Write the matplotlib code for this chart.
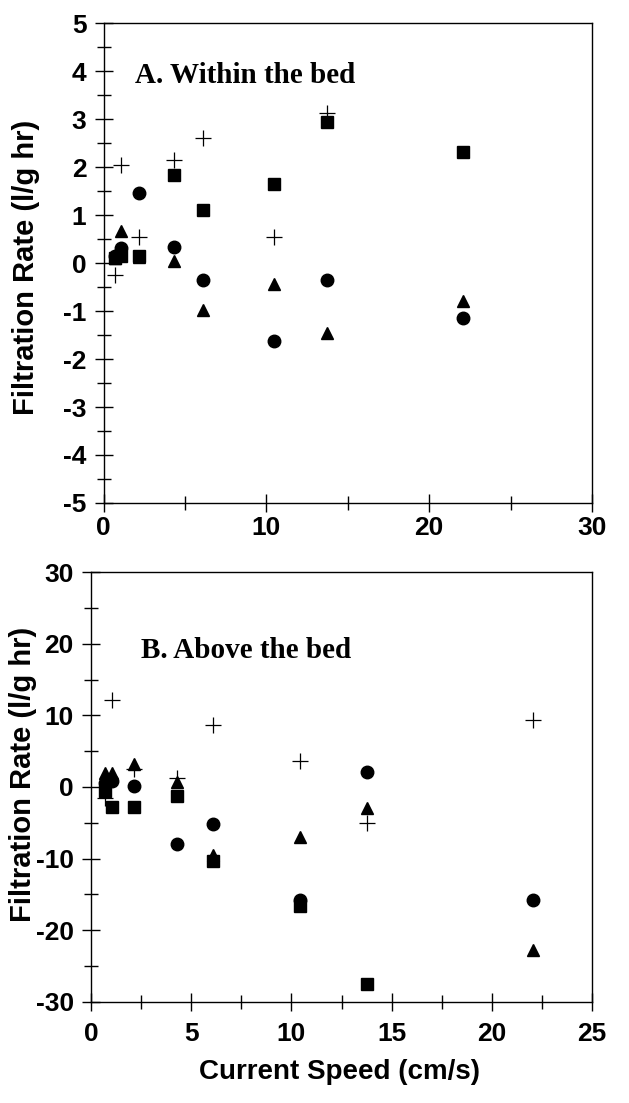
import numpy as np
import matplotlib
matplotlib.use("Agg")
import matplotlib.pyplot as plt
from matplotlib.ticker import MultipleLocator

plt.rcParams['font.family'] = ['Liberation Sans', 'DejaVu Sans']
plt.rcParams['font.weight'] = 'bold'
plt.rcParams['axes.unicode_minus'] = False

# current speed (cm/s)
speed = [0.7, 1.05, 2.15, 4.3, 6.1, 10.45, 13.75, 22.05]

# A. within the bed
a_square = [0.1, 0.15, 0.15, 1.83, 1.1, 1.64, 2.93, 2.31]
a_circle = [0.15, 0.31, 1.46, 0.33, -0.36, -1.62, -0.36, -1.15]
a_triangle = [0.1, 0.66, 0.12, 0.05, -0.97, -0.44, -1.45, -0.79]
a_cross = [-0.24, 2.04, 0.54, 2.15, 2.6, 0.54, 3.13, np.nan]

# B. above the bed
b_square = [-0.6, -2.8, -2.8, -1.2, -10.4, -16.7, -27.5, np.nan]
b_circle = [0.5, 0.9, 0.1, -8.0, -5.2, -15.8, 2.1, -15.8]
b_triangle = [1.9, 1.9, 3.2, 0.7, -9.5, -7.0, -3.0, -22.8]
b_cross = [-1.5, 12.2, 2.5, 1.3, 8.6, 3.6, -5.1, 9.3]

fig = plt.figure(figsize=(6.29, 11.03), dpi=100)
ax1 = fig.add_axes([0.165, 0.544, 0.776, 0.435])
ax2 = fig.add_axes([0.145, 0.092, 0.796, 0.389])


def draw(ax, sq, ci, tr, cr):
    ax.plot(speed, sq, 's', color='black', ms=8.5, ls='none')
    ax.plot(speed, ci, 'o', color='black', ms=9, ls='none')
    ax.plot(speed, tr, '^', color='black', ms=9, ls='none')
    ax.plot(speed, cr, '+', color='black', ms=11, mew=0.9, ls='none')
    for s in ax.spines.values():
        s.set_linewidth(1.0)
    ax.tick_params(which='both', direction='inout', top=False, right=False,
                   labelsize=19, width=1.0)
    ax.tick_params(which='major', length=13)
    ax.tick_params(which='minor', length=10)
    ax.tick_params(axis='y', pad=6)
    for lab in ax.get_xticklabels() + ax.get_yticklabels():
        lab.set_fontweight('bold')


# top panel
draw(ax1, a_square, a_circle, a_triangle, a_cross)
ax1.tick_params(axis='x', pad=3)
ax1.set_xlim(0, 30)
ax1.set_ylim(-5, 5)
ax1.xaxis.set_major_locator(MultipleLocator(10))
ax1.xaxis.set_minor_locator(MultipleLocator(5))
ax1.yaxis.set_major_locator(MultipleLocator(1))
ax1.yaxis.set_minor_locator(MultipleLocator(0.5))
ax1.set_ylabel('Filtration Rate (l/g hr)', fontsize=21, fontweight='bold')
ax1.yaxis.set_label_coords(-0.13, 0.49)
ax1.text(0.063, 0.875, 'A. Within the bed', transform=ax1.transAxes,
         fontsize=21, fontweight='bold', family='Liberation Serif')

# bottom panel
draw(ax2, b_square, b_circle, b_triangle, b_cross)
ax2.tick_params(axis='x', pad=8)
ax2.set_xlim(0, 25)
ax2.set_ylim(-30, 30)
ax2.xaxis.set_major_locator(MultipleLocator(5))
ax2.xaxis.set_minor_locator(MultipleLocator(2.5))
ax2.yaxis.set_major_locator(MultipleLocator(10))
ax2.yaxis.set_minor_locator(MultipleLocator(5))
ax2.set_ylabel('Filtration Rate (l/g hr)', fontsize=21, fontweight='bold')
ax2.yaxis.set_label_coords(-0.108, 0.53)
ax2.set_xlabel('Current Speed (cm/s)', fontsize=20, fontweight='bold')
ax2.xaxis.set_label_coords(0.496, -0.135)
ax2.text(0.1, 0.8, 'B. Above the bed', transform=ax2.transAxes,
         fontsize=21, fontweight='bold', family='Liberation Serif')

fig.savefig('out.png', dpi=100)
